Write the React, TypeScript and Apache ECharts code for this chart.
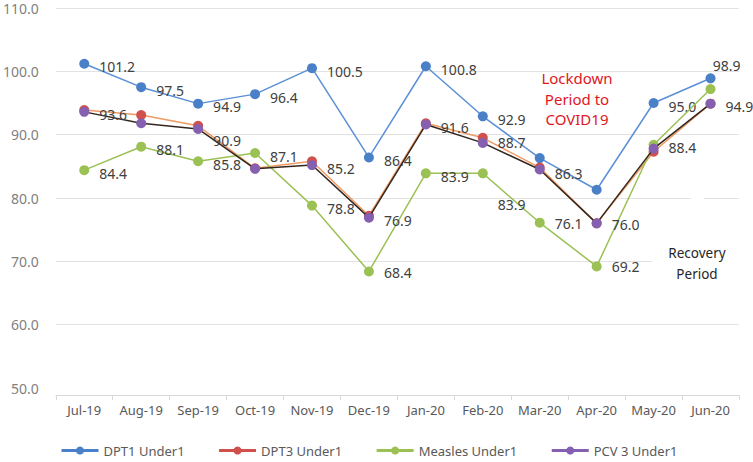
import React, { useEffect, useRef } from "react";
import * as echarts from "echarts";

const MONTHS = ["Jul-19", "Aug-19", "Sep-19", "Oct-19", "Nov-19", "Dec-19", "Jan-20", "Feb-20", "Mar-20", "Apr-20", "May-20", "Jun-20"];
const SERIES_NAMES = ["DPT1 Under1", "DPT3 Under1", "Measles Under1", "PCV 3 Under1"];

const DPT1 = [101.2, 97.5, 94.9, 96.4, 100.5, 86.4, 100.8, 92.9, 86.3, 81.3, 95.0, 98.9];
const DPT3 = [93.9, 93.1, 91.4, 84.7, 85.8, 77.2, 91.8, 89.5, 84.8, 76.0, 87.3, 94.9];
const MEASLES = [84.4, 88.1, 85.8, 87.1, 78.8, 68.4, 83.9, 83.9, 76.1, 69.2, 88.4, 97.2];
const PCV3 = [93.6, 91.8, 90.9, 84.6, 85.2, 76.9, 91.6, 88.7, 84.5, 76.0, 87.8, 94.9];

// which points carry a data label
const DPT1_LABELED = [0, 1, 2, 3, 4, 5, 6, 7, 8, 10, 11];
const DPT3_LABELED: number[] = [];
const MEASLES_LABELED = [0, 1, 2, 3, 4, 5, 6, 7, 8, 9, 10];
const PCV3_LABELED = [0, 2, 4, 5, 6, 7, 9, 11];

const Y_MIN = 50;
const Y_MAX = 110;
const Y_STEP = 10;

const FONT = '"Noto Sans", "DejaVu Sans", sans-serif';

const MARK_COLORS = ["#4a80c8", "#d0504c", "#9bc155", "#8560b0"];
const LINE_COLORS = ["#5b8fd6", "#f09a62", "#9bc155", "#33261e"];

// label placement tweaks (series index -> point index -> label override)
const LABEL_TWEAKS: Record<number, Record<number, any>> = {
  0: {
    8: { offset: [0, 15] },
    11: { position: "top", distance: 1, offset: [16, 0] },
  },
  2: {
    7: { offset: [0, 31] },
    5: { offset: [0, 1] },
    8: { offset: [0, 1] },
    9: { offset: [0, 0] },
  },
  3: {
    2: { offset: [0, 12] },
    7: { offset: [0, 0] },
    9: { offset: [0, 1] },
  },
};

function buildData(values: number[], labeled: number[], sIdx: number) {
  return values.map((v, i) => {
    if (!labeled.includes(i)) return v;
    const tweak = (LABEL_TWEAKS[sIdx] && LABEL_TWEAKS[sIdx][i]) || {};
    return { value: v, label: { show: true, ...tweak } };
  });
}

export default function App() {
  const ref = useRef<HTMLDivElement>(null);

  useEffect(() => {
    if (!ref.current) return;
    const chart = echarts.init(ref.current, undefined, { renderer: "svg" });
    const all = [DPT1, DPT3, MEASLES, PCV3];
    const labeled = [DPT1_LABELED, DPT3_LABELED, MEASLES_LABELED, PCV3_LABELED];

    const nTicks = (Y_MAX - Y_MIN) / Y_STEP + 1;
    const splitColors = Array.from({ length: nTicks }, (_, i) => (i === 0 ? "rgba(0,0,0,0)" : "#e2e2e2"));

    const series = all.map((vals, s) => ({
      name: SERIES_NAMES[s],
      type: "line",
      data: buildData(vals, labeled[s], s),
      symbol: "circle",
      symbolSize: 10,
      showAllSymbol: true,
      itemStyle: { color: MARK_COLORS[s] },
      lineStyle: { color: LINE_COLORS[s], width: 1.5 },
      label: {
        show: false,
        position: "right",
        distance: 10,
        offset: [0, 3],
        color: "#404040",
        fontSize: 14,
        fontFamily: FONT,
        formatter: (p: any) => Number(p.value).toFixed(1),
      },
      emphasis: { disabled: true },
      z: 2 + s,
    }));

    chart.setOption({
      animation: false,
      backgroundColor: "#ffffff",
      textStyle: { fontFamily: FONT },
      grid: { left: 55, right: 14, top: 8, bottom: 74, containLabel: false },
      xAxis: {
        type: "category",
        data: MONTHS,
        boundaryGap: true,
        offset: 7,
        axisLine: { show: true, lineStyle: { color: "#d9d9d9", width: 1 } },
        axisTick: { show: true, length: 5, interval: 0, lineStyle: { color: "#d9d9d9" } },
        axisLabel: { color: "#595959", fontSize: 13, fontFamily: FONT, margin: 8, interval: 0 },
        splitLine: { show: false },
      },
      yAxis: {
        type: "value",
        min: Y_MIN,
        max: Y_MAX,
        interval: Y_STEP,
        axisLine: { show: false },
        axisTick: { show: false },
        axisLabel: {
          color: "#7f7f7f",
          fontSize: 14,
          lineHeight: 14,
          fontFamily: FONT,
          margin: 17,
          formatter: (v: number) => v.toFixed(1),
        },
        splitLine: { show: true, lineStyle: { color: splitColors, width: 1 } },
      },
      legend: {
        left: 55,
        top: 439,
        itemWidth: 37,
        itemHeight: 10,
        itemGap: 33,
        textStyle: { color: "#595959", fontSize: 13, fontFamily: FONT },
        lineStyle: { width: 3 },
        data: SERIES_NAMES.map((n, s) => ({
          name: n,
          itemStyle: { color: MARK_COLORS[s] },
          lineStyle: { color: MARK_COLORS[s], width: 3 },
        })),
      },
      graphic: [
        { type: "rect", z: 1, shape: { x: 652, y: 236, width: 88, height: 52 }, style: { fill: "#ffffff" } },
        { type: "rect", z: 1, shape: { x: 691, y: 192, width: 13, height: 8 }, style: { fill: "#ffffff" } },
        {
          type: "text",
          z: 100,
          x: 577,
          y: 68,
          style: {
            text: "Lockdown\nPeriod to\nCOVID19",
            fill: "#e0161e",
            fontSize: 15,
            fontFamily: FONT,
            align: "center",
            verticalAlign: "top",
            lineHeight: 20.5,
          },
        },
        {
          type: "text",
          z: 100,
          x: 697,
          y: 242,
          style: {
            text: "Recovery\nPeriod",
            fill: "#262626",
            fontSize: 13.5,
            fontFamily: FONT,
            align: "center",
            verticalAlign: "top",
            lineHeight: 21,
          },
        },
      ],
      series,
    });

    return () => chart.dispose();
  }, []);

  return (
    <div
      ref={ref}
      style={{ position: "fixed", left: 0, top: 0, width: 753, height: 462, background: "#fff" }}
    />
  );
}
